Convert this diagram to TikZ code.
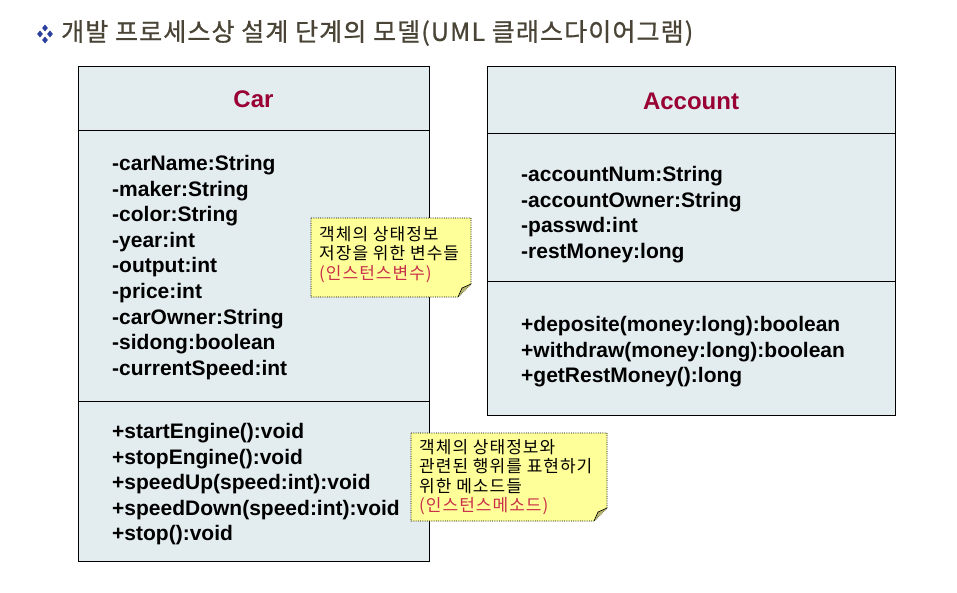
\documentclass[tikz,border=0pt]{standalone}
\usepackage{fontspec}
\setmainfont{Liberation Sans}
\newfontfamily\krtitle[LetterSpace=4.5,FakeBold=0.8]{Noto Sans CJK KR}
\newfontfamily\krnote[LetterSpace=6]{Noto Sans CJK KR}
\usetikzlibrary{shapes.geometric}
\definecolor{boxfill}{HTML}{E3ECEF}
\definecolor{cname}{HTML}{990033}
\definecolor{notefill}{HTML}{FFFF99}
\definecolor{notered}{HTML}{C8304A}
\definecolor{titlecol}{HTML}{4A4436}
\definecolor{dia}{HTML}{2B3F9E}
\tikzset{
  classbox/.style={draw=black, line width=1pt, fill=boxfill},
  divider/.style={draw=black, line width=1pt},
  cname/.style={font=\bfseries\fontsize{24}{28}\selectfont, text=cname},
  members/.style={font=\bfseries\fontsize{21}{25.6}\selectfont, align=left, anchor=north west, inner sep=0pt},
  notetext/.style={font=\krnote\fontsize{17}{19.4}\selectfont, align=left, anchor=north west, inner sep=0pt},
  notebox/.style={draw=black, densely dotted, line width=0.8pt, fill=notefill},
  diam/.style={diamond, fill=dia, inner sep=0pt, minimum width=6pt, minimum height=7pt}
}
\begin{document}
\begin{tikzpicture}[x=1pt,y=-1pt]
\useasboundingbox (0,0) rectangle (957,592);
\fill[white] (0,0) rectangle (957,592);
% title
\node[diam] (d1) at (45,28) {};
\node[diam] (d2) at (40,34) {};
\node[diam] (d3) at (50,34) {};
\node[diam] (d4) at (45,40) {};
\node[anchor=west, inner sep=0pt, text=titlecol, font=\krtitle\fontsize{25}{28}\selectfont] (title) at (61,33) {개발 프로세스상 설계 단계의 모델(UML 클래스다이어그램)};
% Car class
\path[classbox] (78,66) rectangle (429,561);
\draw[divider] (78,130) -- (429,130);
\draw[divider] (78,401) -- (429,401);
\node[cname] (car) at (253.5,99) {Car};
\node[members] (carattr) at (112,155) {-carName:String\\-maker:String\\-color:String\\-year:int\\-output:int\\-price:int\\-carOwner:String\\-sidong:boolean\\-currentSpeed:int};
\node[members] (carmeth) at (112,423) {+startEngine():void\\+stopEngine():void\\+speedUp(speed:int):void\\+speedDown(speed:int):void\\+stop():void};
% Account class
\path[classbox] (487,66) rectangle (895,415);
\draw[divider] (487,133) -- (895,133);
\draw[divider] (487,281) -- (895,281);
\node[cname] (acc) at (691,101) {Account};
\node[members] (accattr) at (521,166) {-accountNum:String\\-accountOwner:String\\-passwd:int\\-restMoney:long};
\node[members] (accmeth) at (521,316) {+deposite(money:long):boolean\\+withdraw(money:long):boolean\\+getRestMoney():long};
% note 1
\path[notebox] (311,218) -- (471,218) -- (471,284) -- (458,297) -- (311,297) -- cycle;
\draw[line width=0.6pt, fill=notefill!70!black] (471,284) -- (462,288) -- (458,297);
\node[notetext] (n1) at (319,226) {객체의 상태정보\\저장을 위한 변수들\\\textcolor{notered}{(인스턴스변수)}};
% note 2
\path[notebox] (411,433) -- (607,433) -- (607,508) -- (594,521) -- (411,521) -- cycle;
\draw[line width=0.6pt, fill=notefill!70!black] (607,508) -- (598,512) -- (594,521);
\node[notetext] (n2) at (419,439) {객체의 상태정보와\\관련된 행위를 표현하기\\위한 메소드들\\\textcolor{notered}{(인스턴스메소드)}};
\end{tikzpicture}
\end{document}
